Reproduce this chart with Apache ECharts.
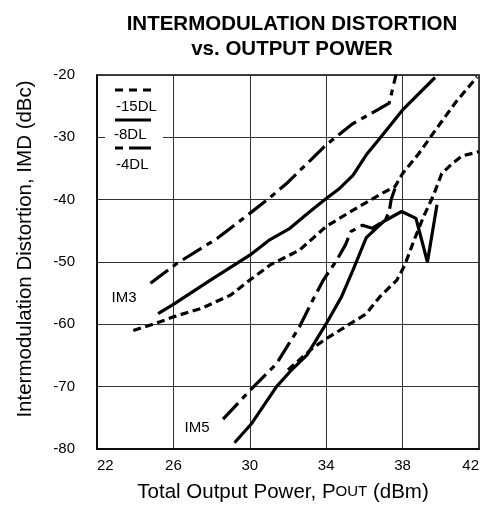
<!DOCTYPE html>
<html>
<head>
<meta charset="utf-8">
<script src="https://cdn.jsdelivr.net/npm/echarts@6/dist/echarts.min.js"></script>
<style>
html,body{margin:0;padding:0;background:#fff;}
#chart{width:481px;height:508px;}
</style>
</head>
<body>
<div id="chart"></div>
<script>
// ---- data (x: Total Output Power dBm, y: IMD dBc) ----
const xMin = 22, xMax = 42, xStep = 4;
const yMin = -80, yMax = -20, yStep = 10;

const im3_15DL = [[23.9,-61.0],[25.3,-59.6],[26.0,-58.8],[27.5,-57.4],[29.0,-55.3],[30.0,-52.9],[31.1,-50.4],[32.6,-48.1],[34.0,-44.3],[35.5,-41.5],[36.8,-39.2],[37.6,-37.9],[38.0,-35.8],[38.8,-32.8],[39.8,-28.5],[40.8,-24.3],[41.9,-20.3]];
const im3_8DL  = [[25.2,-58.3],[26.0,-56.8],[28.0,-52.8],[30.0,-48.9],[31.06,-46.4],[32.1,-44.6],[33.15,-41.9],[34.0,-39.8],[34.7,-38.2],[35.4,-36.1],[36.1,-32.8],[36.8,-30.2],[38.0,-25.6],[39.7,-20.4]];
const im3_4DL  = [[24.8,-53.4],[26.2,-50.2],[28.3,-46.2],[30.0,-42.2],[31.0,-39.8],[32.0,-37.2],[33.0,-34.2],[34.0,-31.2],[35.4,-27.8],[36.8,-25.4],[37.3,-24.5],[37.65,-20.0]];

const im5_15DL = [[32.0,-67.3],[33.3,-63.8],[34.0,-62.3],[35.0,-60.4],[36.1,-58.3],[36.8,-55.6],[37.7,-52.9],[38.1,-50.6],[38.6,-46.5],[39.1,-42.7],[39.6,-39.4],[40.05,-35.8],[40.6,-34.2],[41.1,-33.0],[42.0,-32.3]];
const im5_8DL  = [[29.2,-79.0],[30.1,-75.9],[31.4,-70.0],[32.1,-67.6],[33.0,-64.9],[34.0,-59.9],[34.8,-55.6],[35.4,-51.3],[36.1,-46.1],[37.0,-43.5],[37.95,-41.9],[38.7,-43.0],[39.3,-50.0],[39.8,-40.8]];
const im5_4DL  = [[28.6,-75.2],[30.1,-70.3],[31.4,-66.3],[32.6,-60.4],[33.3,-56.1],[33.85,-52.9],[34.55,-49.7],[35.0,-47.3],[35.3,-45.1],[35.9,-44.1],[36.4,-44.6],[37.1,-43.3],[37.3,-41.9],[37.4,-40.0],[37.6,-38.2]];

const legendNames = ['-15DL','-8DL','-4DL'];
const titleLines = ['INTERMODULATION DISTORTION','vs. OUTPUT POWER'];
const xTitle = 'Total Output Power, P{s|OUT} (dBm)';
const yTitle = 'Intermodulation Distortion, IMD (dBc)';
const curveLabels = ['IM3','IM5'];

// ---- styles ----
const FONT = '"Liberation Sans", Arial, sans-serif';
const LW = 3.2;
const styles = {
  '-15DL': {type:[8,4.5], width:LW, color:'#000', cap:'butt'},
  '-8DL':  {type:'solid', width:LW, color:'#000', cap:'butt'},
  '-4DL':  {type:[22,6,6,6], width:LW, color:'#000', cap:'butt'}
};

function mk(name, data){
  return {type:'line', name, data, showSymbol:false, symbol:'none', smooth:false,
          lineStyle:Object.assign({}, styles[name]), z:3, silent:true, animation:false};
}

const chart = echarts.init(document.getElementById('chart'), null, {renderer:'canvas'});
const option = {
  animation:false,
  backgroundColor:'#fff',
  title:{
    text:titleLines.join('\n'), left:287, top:7, textAlign:'center',
    textStyle:{fontSize:20.5, fontWeight:'bold', color:'#000', fontFamily:FONT, lineHeight:25}
  },
  grid:{left:97, right:2, top:75, bottom:59, show:true, borderColor:'#000', borderWidth:1.5, backgroundColor:'transparent', outerBoundsMode:'none', containLabel:false},
  xAxis:{
    type:'value', min:xMin, max:xMax, interval:xStep,
    axisLine:{show:true, lineStyle:{color:'#000', width:1.5}},
    axisTick:{show:false},
    splitLine:{show:true, lineStyle:{color:'#333', width:1}},
    axisLabel:{fontSize:15, color:'#000', fontFamily:FONT, margin:9, alignMinLabel:'left', alignMaxLabel:'right', hideOverlap:false, showMinLabel:true, showMaxLabel:true}
  },
  yAxis:{
    type:'value', min:yMin, max:yMax, interval:yStep,
    axisLine:{show:true, lineStyle:{color:'#000', width:1.5}},
    axisTick:{show:false},
    splitLine:{show:true, lineStyle:{color:'#333', width:1}},
    axisLabel:{fontSize:15, color:'#000', fontFamily:FONT, margin:22, showMinLabel:true, showMaxLabel:true}
  },
  series:[
    mk('-15DL', im3_15DL), mk('-8DL', im3_8DL), mk('-4DL', im3_4DL),
    mk('-15DL', im5_15DL), mk('-8DL', im5_8DL), mk('-4DL', im5_4DL)
  ],
  graphic:[
    // legend background
    {type:'rect', z:100, shape:{x:105, y:84, width:58, height:90}, style:{fill:'#fff'}},
    // legend samples
    {type:'line', z:101, shape:{x1:115, y1:90, x2:151, y2:90}, style:{stroke:'#000', lineWidth:LW, lineDash:[8,6]}},
    {type:'line', z:101, shape:{x1:115, y1:120, x2:151, y2:120}, style:{stroke:'#000', lineWidth:LW}},
    {type:'line', z:101, shape:{x1:115, y1:148, x2:151, y2:148}, style:{stroke:'#000', lineWidth:LW, lineDash:[8,6,22,0]}},
    {type:'text', z:101, x:116, y:107, style:{text:legendNames[0], fontSize:15, fontFamily:FONT, fill:'#000', align:'left', verticalAlign:'middle', textAlign:'left', textVerticalAlign:'middle'}},
    {type:'text', z:101, x:114, y:135, style:{text:legendNames[1], fontSize:15, fontFamily:FONT, fill:'#000', align:'left', verticalAlign:'middle', textAlign:'left', textVerticalAlign:'middle'}},
    {type:'text', z:101, x:116, y:165, style:{text:legendNames[2], fontSize:15, fontFamily:FONT, fill:'#000', align:'left', verticalAlign:'middle', textAlign:'left', textVerticalAlign:'middle'}},
    // curve labels
    {type:'text', z:101, x:124, y:298, style:{text:curveLabels[0], fontSize:15, fontFamily:FONT, fill:'#000', align:'center', verticalAlign:'middle', textAlign:'center', textVerticalAlign:'middle'}},
    {type:'text', z:101, x:197, y:428, style:{text:curveLabels[1], fontSize:15, fontFamily:FONT, fill:'#000', align:'center', verticalAlign:'middle', textAlign:'center', textVerticalAlign:'middle'}},
    // axis titles
    {type:'text', z:101, x:25, y:249, rotation:Math.PI/2, style:{text:yTitle, fontSize:20.5, fontFamily:FONT, fill:'#000', align:'center', verticalAlign:'middle', textAlign:'center', textVerticalAlign:'middle'}},
    {type:'text', z:101, x:283, y:492, style:{text:xTitle, fontSize:20.5, fontFamily:FONT, fill:'#000', align:'center', verticalAlign:'middle', textAlign:'center', textVerticalAlign:'middle',
      rich:{s:{fontSize:15, fontFamily:FONT, fill:'#000', color:'#000'}}}}
  ]
};
chart.setOption(option);
</script>
</body>
</html>
